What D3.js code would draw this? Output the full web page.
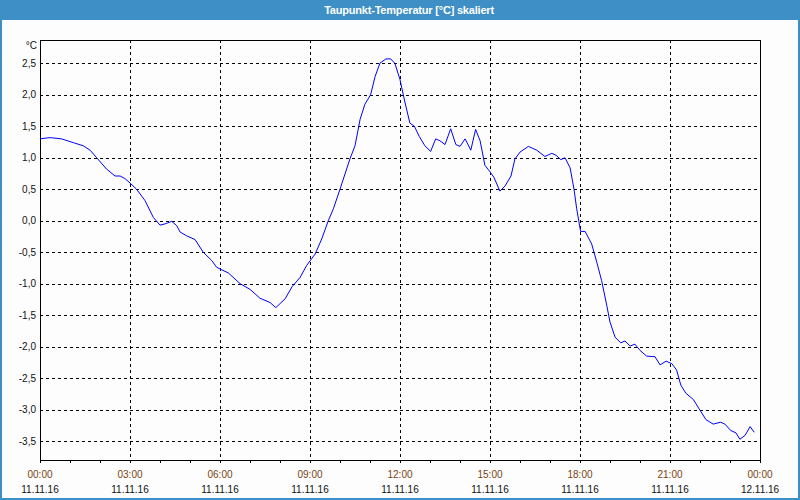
<!DOCTYPE html>
<html>
<head>
<meta charset="utf-8">
<script src="https://cdn.jsdelivr.net/npm/d3@7"></script>
<style>
  html, body { margin: 0; padding: 0; background: #fcfdfc; }
  svg { display: block; }
  text { font-family: "Liberation Sans", Arial, sans-serif; }
</style>
</head>
<body>
<svg id="chart" width="800" height="500"></svg>
<script>
// ---- data ----
const title = "Taupunkt-Temperatur [°C] skaliert";
const unitLabel = "°C";
// hours since 11.11.16 00:00
const hours = [
  0.00, 0.33, 0.72, 1.11, 1.44, 1.67, 1.89, 2.22, 2.50, 2.67, 2.83, 3.00, 3.22, 3.50, 3.78,
  4.00, 4.17, 4.39, 4.56, 4.67, 4.89, 5.17, 5.44, 5.72, 5.89, 6.06, 6.28, 6.67, 7.00, 7.33,
  7.67, 7.86, 8.17, 8.40, 8.67, 8.89, 9.17, 9.39, 9.61, 9.78, 10.00, 10.33, 10.50, 10.67, 10.83,
  11.02, 11.17, 11.33, 11.53, 11.69, 11.83, 12.00, 12.17, 12.33, 12.48, 12.64, 12.83, 13.02, 13.19, 13.33,
  13.50, 13.69, 13.86, 14.00, 14.17, 14.36, 14.52, 14.67, 14.83, 14.98, 15.13, 15.33, 15.50, 15.70, 15.83,
  16.00, 16.28, 16.56, 16.83, 17.06, 17.20, 17.36, 17.50, 17.67, 17.80, 17.89, 18.02, 18.17, 18.39, 18.56,
  18.72, 18.89, 19.00, 19.17, 19.36, 19.50, 19.67, 19.83, 20.00, 20.22, 20.50, 20.67, 20.87, 21.06, 21.22,
  21.36, 21.53, 21.78, 22.00, 22.20, 22.44, 22.69, 22.83, 23.02, 23.20, 23.33, 23.50, 23.67, 23.81
];
const dewpoint = [
  1.30, 1.32, 1.30, 1.24, 1.19, 1.12, 1.00, 0.82, 0.71, 0.71, 0.67, 0.60, 0.50, 0.32, 0.05,
  -0.07, -0.05, -0.01, -0.08, -0.18, -0.24, -0.30, -0.50, -0.63, -0.74, -0.78, -0.83, -1.00, -1.09, -1.23,
  -1.30, -1.38, -1.24, -1.05, -0.90, -0.71, -0.53, -0.29, 0.00, 0.19, 0.50, 0.98, 1.19, 1.61, 1.85,
  2.00, 2.29, 2.50, 2.57, 2.57, 2.50, 2.24, 1.87, 1.55, 1.50, 1.34, 1.19, 1.10, 1.30, 1.27,
  1.21, 1.46, 1.21, 1.18, 1.30, 1.12, 1.45, 1.27, 0.88, 0.79, 0.69, 0.47, 0.55, 0.71, 0.98,
  1.09, 1.18, 1.12, 1.02, 1.07, 1.04, 0.97, 1.00, 0.84, 0.50, 0.19, -0.17, -0.17, -0.37, -0.66,
  -0.95, -1.34, -1.61, -1.85, -1.94, -1.91, -1.99, -1.96, -2.06, -2.15, -2.16, -2.29, -2.23, -2.27, -2.37,
  -2.61, -2.74, -2.84, -3.01, -3.16, -3.23, -3.20, -3.23, -3.33, -3.37, -3.47, -3.41, -3.27, -3.36
];
const yTicks = [-3.5, -3.0, -2.5, -2.0, -1.5, -1.0, -0.5, 0.0, 0.5, 1.0, 1.5, 2.0, 2.5];
const yDomain = [-3.80, 2.87];
const xMajor = [0, 3, 6, 9, 12, 15, 18, 21, 24];
const timeLabels = ["00:00", "03:00", "06:00", "09:00", "12:00", "15:00", "18:00", "21:00", "00:00"];
const dateLabels = ["11.11.16", "11.11.16", "11.11.16", "11.11.16", "11.11.16", "11.11.16", "11.11.16", "11.11.16", "12.11.16"];
const xMinor = d3.range(0, 25, 1);

// ---- layout ----
const W = 800, H = 500;
const L = 40, R = 760, T = 40, B = 460;
const svg = d3.select("#chart");

const x = d3.scaleLinear().domain([0, 24]).range([L, R]);
const y = d3.scaleLinear().domain(yDomain).range([B, T]);

// background + frame
svg.append("rect").attr("x", 0).attr("y", 0).attr("width", W).attr("height", H).attr("fill", "#fcfdfc");
svg.append("rect").attr("x", 1).attr("y", 10).attr("width", W - 2).attr("height", H - 11)
  .attr("fill", "none").attr("stroke", "#3d8fc6").attr("stroke-width", 2);
svg.append("rect").attr("x", 0).attr("y", 0).attr("width", W).attr("height", 20).attr("fill", "#3d8fc6");
svg.append("text").attr("x", 409).attr("y", 10).attr("text-anchor", "middle")
  .attr("dominant-baseline", "central").attr("fill", "#ffffff")
  .attr("font-size", "11px").attr("font-weight", "bold").attr("letter-spacing", "-0.2px").text(title);

// grid
const g = svg.append("g");
g.selectAll("line.hgrid").data(yTicks).join("line").attr("class", "hgrid")
  .attr("x1", L).attr("x2", R)
  .attr("y1", d => Math.round(y(d)) + 0.5).attr("y2", d => Math.round(y(d)) + 0.5)
  .attr("stroke", "#000").attr("stroke-dasharray", "3,3").attr("shape-rendering", "crispEdges");
g.selectAll("line.vgrid").data(xMajor.slice(1, -1)).join("line").attr("class", "vgrid")
  .attr("y1", T).attr("y2", B)
  .attr("x1", d => Math.round(x(d)) + 0.5).attr("x2", d => Math.round(x(d)) + 0.5)
  .attr("stroke", "#000").attr("stroke-dasharray", "3,3").attr("shape-rendering", "crispEdges");

// y axis labels
const yAxis = d3.axisLeft(y).tickValues(yTicks).tickSize(0).tickPadding(4)
  .tickFormat(d => d3.format(".1f")(d).replace("−", "-").replace(".", ","));
const ya = svg.append("g").attr("transform", `translate(${L},0)`).call(yAxis);
ya.select(".domain").remove();
ya.selectAll("text").attr("font-size", "10px").attr("fill", "#111")
  .attr("font-family", "'Liberation Sans', Arial, sans-serif");
svg.append("text").attr("x", 37).attr("y", 45).attr("text-anchor", "end")
  .attr("dominant-baseline", "central").attr("font-size", "10px").attr("fill", "#111").text(unitLabel);

// x axis minor ticks
const xAxis = d3.axisBottom(x).tickValues(xMinor).tickSize(3).tickFormat("");
const xa = svg.append("g").attr("transform", `translate(0,${B})`).call(xAxis);
xa.select(".domain").remove();
xa.selectAll("line").attr("shape-rendering", "crispEdges");

// x labels
svg.selectAll("text.tl").data(xMajor).join("text").attr("class", "tl")
  .attr("x", d => x(d)).attr("y", 474).attr("text-anchor", "middle")
  .attr("dominant-baseline", "central").attr("font-size", "10px").attr("fill", "#7a4410")
  .text((d, i) => timeLabels[i]);
svg.selectAll("text.dl").data(xMajor).join("text").attr("class", "dl")
  .attr("x", d => x(d)).attr("y", 489).attr("text-anchor", "middle")
  .attr("dominant-baseline", "central").attr("font-size", "10px").attr("fill", "#111")
  .text((d, i) => dateLabels[i]);

// plot frame
svg.append("rect").attr("x", L + 0.5).attr("y", T + 0.5).attr("width", R - L).attr("height", B - T)
  .attr("fill", "none").attr("stroke", "#000").attr("shape-rendering", "crispEdges");

// line
const line = d3.line().x((d, i) => x(hours[i])).y(d => y(d));
svg.append("path").datum(dewpoint).attr("d", line)
  .attr("fill", "none").attr("stroke", "#0000ff").attr("stroke-width", 1);
</script>
</body>
</html>
